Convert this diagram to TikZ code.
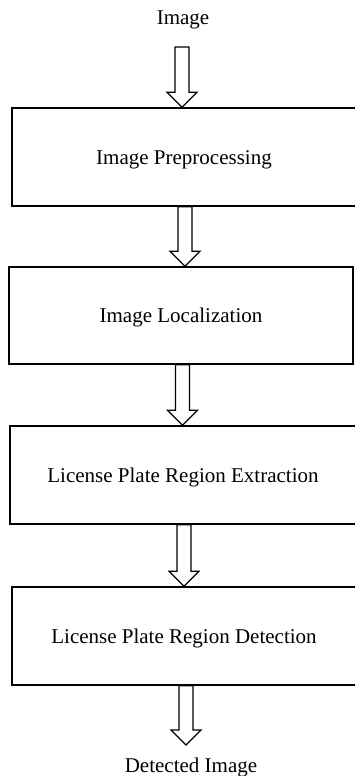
\documentclass[tikz,border=0pt]{standalone}
\usepackage{fontspec}
\setmainfont{Liberation Serif}
\usetikzlibrary{calc}
\tikzset{
  box/.style={draw, line width=1.5pt, inner sep=0pt, text height=16pt, text depth=2pt, font=\fontsize{21}{25}\selectfont},
  txt/.style={inner sep=0pt, anchor=base, font=\fontsize{21}{25}\selectfont},
  arr/.style={draw, line width=1.2pt, line join=miter},
}
\newcommand{\hollowarrow}[2]{%
  \draw[arr] ($(#1)+(-7,0)$) -- ($(#2)+(-7,-15)$) -- ($(#2)+(-15,-15)$) -- (#2)
    -- ($(#2)+(15,-15)$) -- ($(#2)+(7,-15)$) -- ($(#1)+(7,0)$) -- cycle;}
\begin{document}
\begin{tikzpicture}[x=1pt,y=-1pt]
\useasboundingbox (0,0) rectangle (354,776);
\node[txt] (in) at (183,25) {Image};
\node[box, minimum width=344, minimum height=98] (b1) at (184,157) {Image Preprocessing};
\node[box, minimum width=344, minimum height=97] (b2) at (181,315.5) {Image Localization};
\node[box, minimum width=346, minimum height=98] (b3) at (183,475) {License Plate Region Extraction};
\node[box, minimum width=344, minimum height=98] (b4) at (184,636) {License Plate Region Detection};
\node[txt] (out) at (191,772) {Detected Image};
% arrows
\coordinate (s1) at (182,47);
\coordinate (t1) at (b1.north -| s1);
\hollowarrow{s1}{t1}
\coordinate (x2) at (185,0);
\coordinate (s2) at (b1.south -| x2);
\coordinate (t2) at (b2.north -| x2);
\hollowarrow{s2}{t2}
\coordinate (x3) at (182.5,0);
\coordinate (s3) at (b2.south -| x3);
\coordinate (t3) at (b3.north -| x3);
\hollowarrow{s3}{t3}
\coordinate (x4) at (184,0);
\coordinate (s4) at (b3.south -| x4);
\coordinate (t4) at (b4.north -| x4);
\hollowarrow{s4}{t4}
\coordinate (x5) at (186,0);
\coordinate (s5) at (b4.south -| x5);
\coordinate (t5) at (186,745);
\hollowarrow{s5}{t5}
\end{tikzpicture}
\end{document}
